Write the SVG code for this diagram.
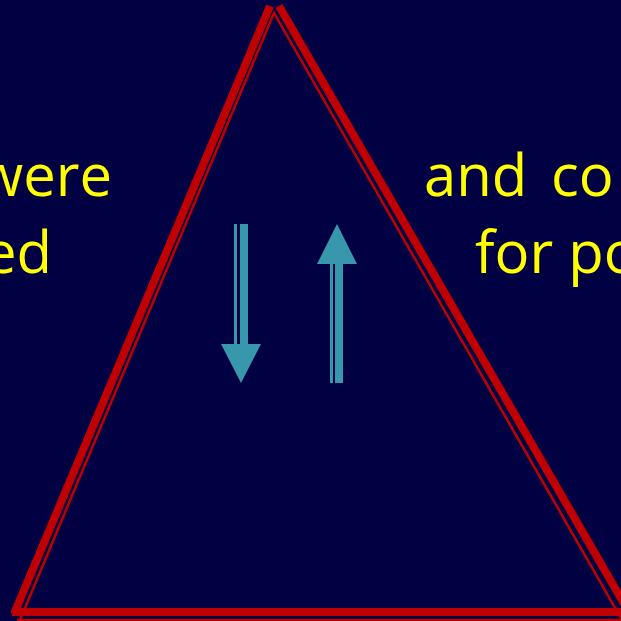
<svg xmlns="http://www.w3.org/2000/svg" width="621" height="621" viewBox="0 0 621 621">
<style>
.txt{font-family:"Open Sans","Noto Sans","Liberation Sans",sans-serif;font-size:58px;fill:#FFFF00}
.thick{fill:none;stroke:#C00000;stroke-width:8;stroke-linecap:butt}
.thin{fill:none;stroke:#C00000;stroke-width:2.5;stroke-linejoin:miter}
.arrow{fill:#3797AC}
</style>
<rect x="0" y="0" width="621" height="621" fill="#010042"/>
<g id="triangle">
<line class="thick" x1="270" y1="6" x2="14" y2="614"/>
<line class="thick" x1="279" y1="6" x2="630" y2="614"/>
<line class="thick" x1="12" y1="612" x2="630" y2="612"/>
<polyline class="thin" points="20,620 274,13 622,620"/>
<line class="thin" x1="17" y1="620" x2="625" y2="620"/>
</g>
<g id="text-left">
<text class="txt" x="112" y="196" text-anchor="end">were</text>
<text class="txt" x="52" y="273" text-anchor="end">ed</text>
</g>
<g id="text-right">
<text class="txt" y="196"><tspan x="424">and</tspan><tspan x="551">co</tspan></text>
<text class="txt" x="475" y="273">for po</text>
</g>
<g id="connectors">
<g id="arrow-down" class="arrow">
<rect x="234" y="224" width="3" height="121"/>
<rect x="240" y="224" width="8" height="121"/>
<polygon points="221,344 261,344 241,383"/>
</g>
<g id="arrow-up" class="arrow">
<polygon points="337,224 357,264 317,264"/>
<rect x="330" y="263" width="3" height="120"/>
<rect x="335" y="263" width="8" height="120"/>
</g>
</g>
</svg>
